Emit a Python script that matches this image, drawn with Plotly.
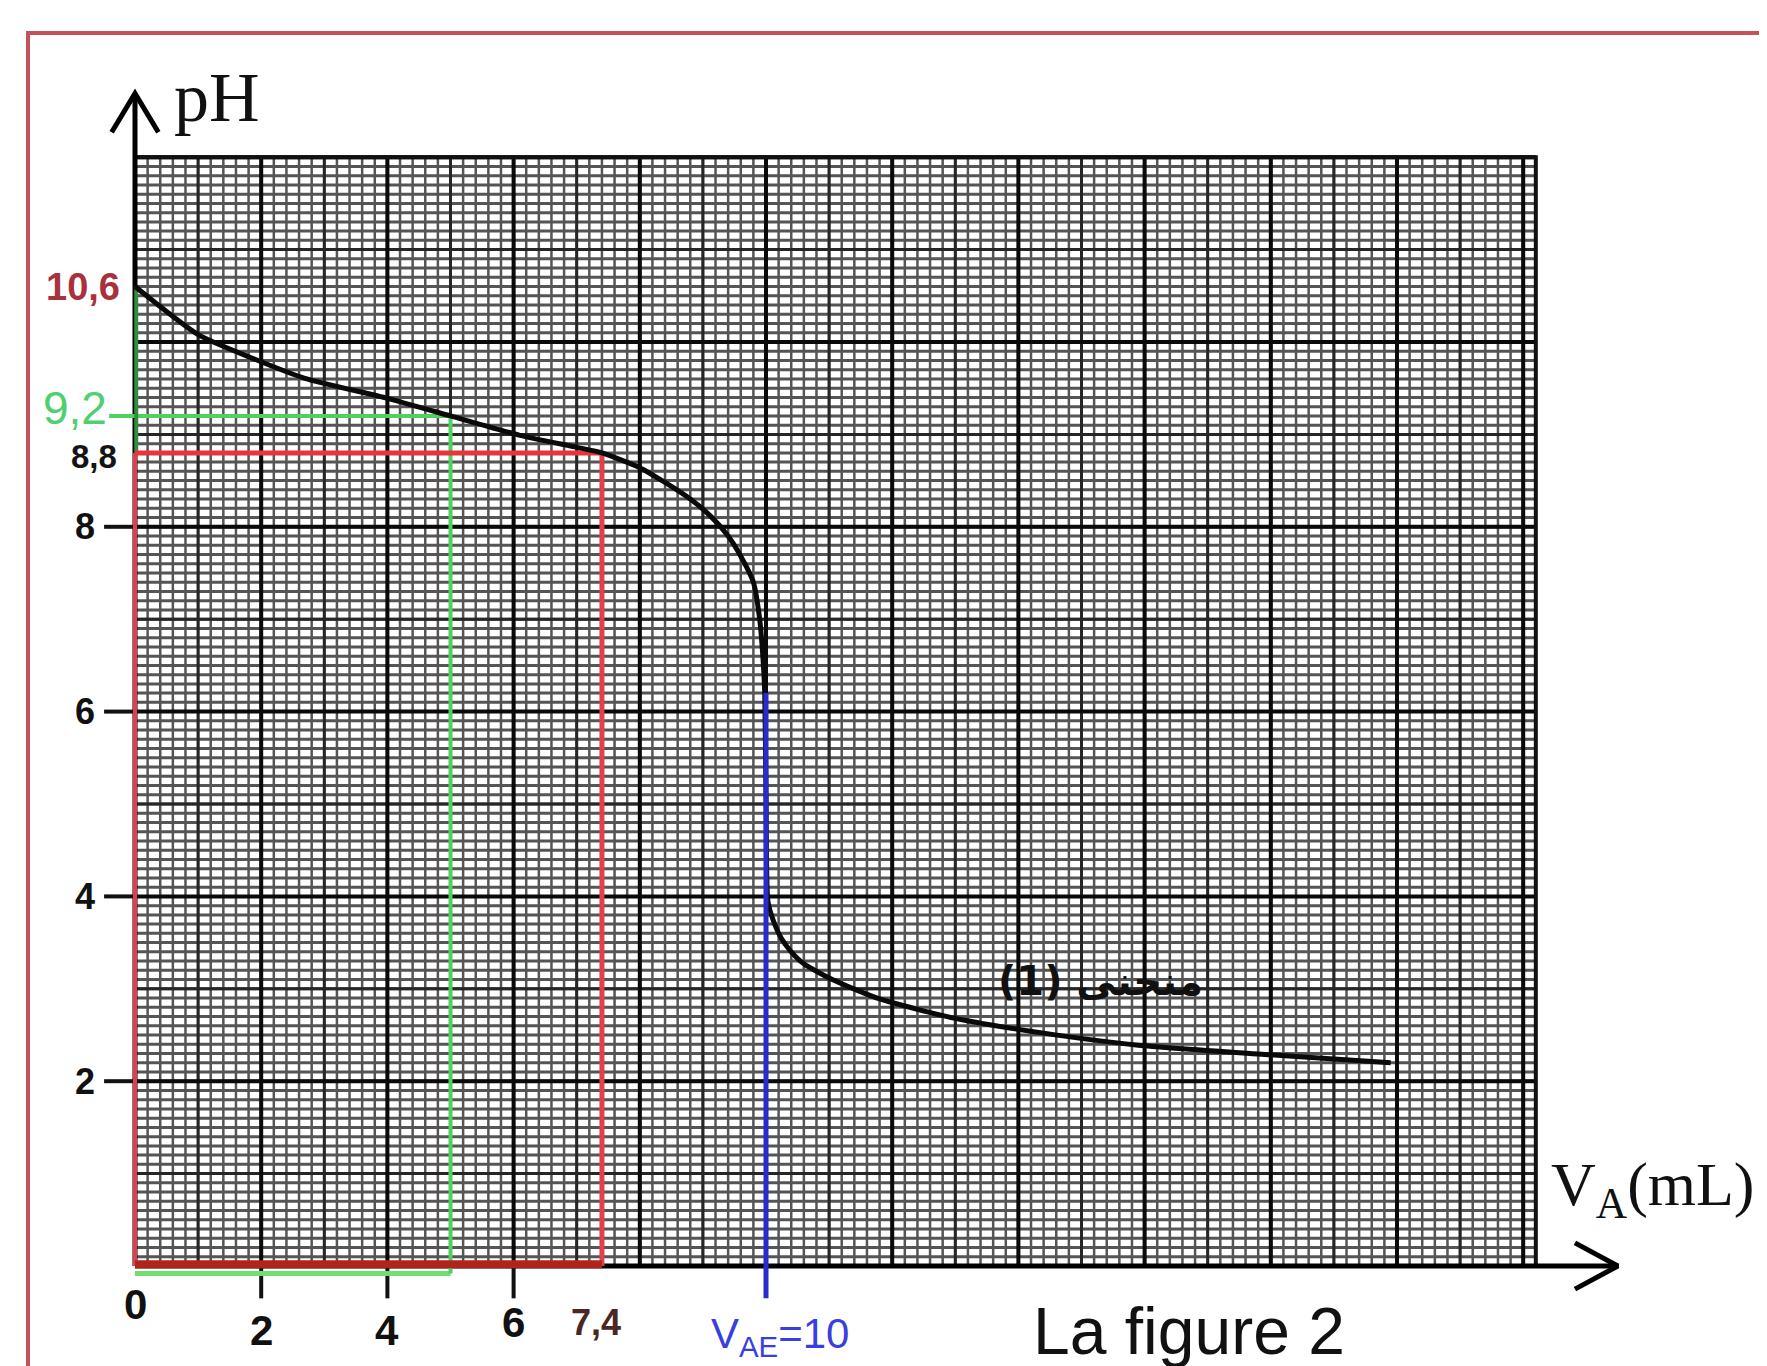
import numpy as np
import plotly.graph_objects as go

# ---------------- data ----------------
V_mL = [0.0, 1.0, 1.84, 2.68, 4.0, 5.0, 6.1, 7.0, 7.4, 8.0, 8.4, 8.8, 9.13,
        9.4, 9.56, 9.8, 9.9, 9.95, 9.98, 10.0, 10.03, 10.11, 10.24, 10.4,
        10.6, 11.05, 11.8, 13.0, 14.4, 15.9, 17.9, 19.9]
pH = [10.6, 10.08, 9.83, 9.61, 9.39, 9.2, 8.99, 8.86, 8.8, 8.64, 8.48, 8.3,
      8.11, 7.9, 7.73, 7.4, 7.0, 6.6, 6.2, 5.1, 3.95, 3.75, 3.55, 3.4,
      3.27, 3.1, 2.89, 2.68, 2.52, 2.39, 2.29, 2.2]

PH_START = 10.6
V_HALF, PH_HALF = 5.0, 9.2          # half-equivalence (green)
V_MARK, PH_MARK = 7.4, 8.8          # red construction
V_EQ, PH_EQ_TOP = 10.0, 6.2         # equivalence (blue)

y_tick_vals = [2, 4, 6, 8]
y_tick_text = ["2", "4", "6", "8"]
x_tick_vals = [0, 2, 4, 6]
x_tick_text = ["0", "2", "4", "6"]
y_mark_vals = [10.6, 9.2, 8.8]
y_mark_text = ["10,6", "9,2", "8,8"]
x_mark_vals = [7.4, 10.0]
x_mark_text = ["7,4", "V<sub>AE</sub>=10"]
curve_label = "منحنى (1)"

# ---------------- layout constants ----------------
W, H = 1767, 1366
X0_PX, PXX = 127, 63.1      # pixel of V=0, pixels per mL
Y0_PX, PXY = 1258, 92.4     # pixel of pH=0, pixels per pH unit
XR = [-X0_PX / PXX, (W - X0_PX) / PXX]
YR = [-(H - Y0_PX) / PXY, Y0_PX / PXY]
GRID_X1, GRID_Y1 = 22.2, 12.0
X_ARROW, Y_ARROW = 23.5, 12.69

fig = go.Figure()


def seg_trace(xs, ys, color, width, name="line"):
    fig.add_trace(go.Scatter(x=xs, y=ys, mode="lines", hoverinfo="skip",
                             line=dict(color=color, width=width),
                             showlegend=False, name=name))


def grid_lines(step_x, step_y, color, wx, wy):
    xs, ys = [], []
    for gx in np.arange(0, GRID_X1 + 1e-9, step_x):
        xs += [gx, gx, None]
        ys += [0, GRID_Y1, None]
    seg_trace(xs, ys, color, wx, "grid")
    xs, ys = [], []
    for gy in np.arange(0, GRID_Y1 + 1e-9, step_y):
        xs += [0, GRID_X1, None]
        ys += [gy, gy, None]
    seg_trace(xs, ys, color, wy, "grid")


# graph paper
grid_lines(0.2, 0.1, "#555555", 2.5, 3)
grid_lines(1.0, 1.0, "#262626", 3, 3)
grid_lines(2.0, 2.0, "#0a0a0a", 4, 4)
seg_trace([0, GRID_X1, GRID_X1, 0], [GRID_Y1, GRID_Y1, 0, 0], "#111111", 4)

# axes with arrows
seg_trace([0, 0], [0, Y_ARROW], "#000000", 5)
seg_trace([0, X_ARROW], [0, 0], "#000000", 5)
seg_trace([-0.37, 0, 0.37], [Y_ARROW - 0.42, Y_ARROW, Y_ARROW - 0.42], "#000000", 5)
seg_trace([X_ARROW - 0.68, X_ARROW, X_ARROW - 0.68], [0.25, 0, -0.25], "#000000", 5)

# tick dashes
tx, ty = [], []
for v in y_tick_vals:
    tx += [-0.49, 0, None]
    ty += [v, v, None]
seg_trace(tx, ty, "#111111", 4)
tx, ty = [], []
for v in x_tick_vals[1:]:
    tx += [v, v, None]
    ty += [0, -0.35, None]
seg_trace(tx, ty, "#111111", 4)

# green construction (half equivalence)
seg_trace([0, V_HALF], [-0.08, -0.08], "#6fe06f", 5)
seg_trace([-0.41, V_HALF], [PH_HALF, PH_HALF], "#4fd05f", 4)
seg_trace([V_HALF, V_HALF], [PH_HALF, -0.08], "#4fd05f", 4)
seg_trace([0.02, 0.02], [PH_MARK, PH_START], "#2f8f3f", 4)

# red construction
seg_trace([0, 0], [0, PH_MARK], "#e0404c", 4)
seg_trace([0, V_MARK], [PH_MARK, PH_MARK], "#e8343c", 5)
seg_trace([V_MARK, V_MARK], [PH_MARK, 0], "#e0404c", 5)
seg_trace([0, V_MARK], [0.02, 0.02], "#b0241c", 8)

# titration curve
fig.add_trace(go.Scatter(x=V_mL, y=pH, mode="lines", hoverinfo="skip",
                         line=dict(color="#0a0a0a", width=5, shape="spline",
                                   smoothing=0.6),
                         showlegend=False, name="pH"))

# blue equivalence line
seg_trace([V_EQ, V_EQ], [PH_EQ_TOP, -0.35], "#2a2ad0", 5)

LBL_FONT = "Liberation Sans, Arial, sans-serif"
ann = []
# y tick labels
for v, t in zip(y_tick_vals, y_tick_text):
    ann.append(dict(x=0, y=v, text="<b>%s</b>" % t, xanchor="right", yanchor="middle",
                    xshift=-38, font=dict(size=36, color="#111111", family=LBL_FONT)))
# special y labels
y_mark_style = [dict(size=38, color="#a8323c", bold=True, xs=-13, ys=0),
                dict(size=46, color="#4fcf6f", bold=False, xs=-26, ys=8),
                dict(size=33, color="#141414", bold=True, xs=-16, ys=-4)]
for v, t, s in zip(y_mark_vals, y_mark_text, y_mark_style):
    txt = "<b>%s</b>" % t if s["bold"] else t
    ann.append(dict(x=0, y=v, text=txt, xanchor="right", yanchor="middle",
                    xshift=s["xs"], yshift=s["ys"],
                    font=dict(size=s["size"], color=s["color"], family=LBL_FONT)))
# x tick labels
x_tick_shift = [-38, -64, -64, -56]
for v, t, sh in zip(x_tick_vals, x_tick_text, x_tick_shift):
    ann.append(dict(x=v, y=0, text="<b>%s</b>" % t, xanchor="center", yanchor="middle",
                    yshift=sh, font=dict(size=42, color="#111111", family=LBL_FONT)))
x_mark_style = [dict(size=36, color="#4a2626", bold=True, ys=-56, xs=-6),
                dict(size=42, color="#3a3ee0", bold=False, ys=-70, xs=14)]
for v, t, s in zip(x_mark_vals, x_mark_text, x_mark_style):
    txt = "<b>%s</b>" % t if s["bold"] else t
    ann.append(dict(x=v, y=0, text=txt, xanchor="center", yanchor="middle",
                    yshift=s["ys"], xshift=s["xs"],
                    font=dict(size=s["size"], color=s["color"], family=LBL_FONT)))

# axis titles and captions
ann.append(dict(x=1.3, y=12.65, text="pH", xanchor="center", yanchor="middle",
                font=dict(size=70, color="#111111",
                          family="Liberation Serif, Times New Roman, serif")))
ann.append(dict(x=24.05, y=0.84, text="V<sub>A</sub>(mL)", xanchor="center",
                yanchor="middle",
                font=dict(size=62, color="#111111",
                          family="Liberation Serif, Times New Roman, serif")))
ann.append(dict(x=16.7, y=-0.7, text="La figure 2", xanchor="center", yanchor="middle",
                font=dict(size=66, color="#111111", family=LBL_FONT)))
ann.append(dict(x=15.3, y=3.08, text="<b>%s</b>" % curve_label, xanchor="center",
                yanchor="middle",
                font=dict(size=40, color="#111111", family="DejaVu Sans, sans-serif")))

for a in ann:
    a.update(xref="x", yref="y", showarrow=False)

fig.update_layout(
    width=W, height=H,
    margin=dict(l=0, r=0, t=0, b=0),
    paper_bgcolor="#ffffff", plot_bgcolor="#ffffff",
    xaxis=dict(range=XR, visible=False, fixedrange=True),
    yaxis=dict(range=YR, visible=False, fixedrange=True),
    annotations=ann,
    shapes=[dict(type="rect", xref="paper", yref="paper",
                 x0=20 / W, x1=1.05, y0=-0.05, y1=1 - 25 / H,
                 line=dict(color="#c4525e", width=4))],
    showlegend=False,
)

fig.write_html("out.html")
